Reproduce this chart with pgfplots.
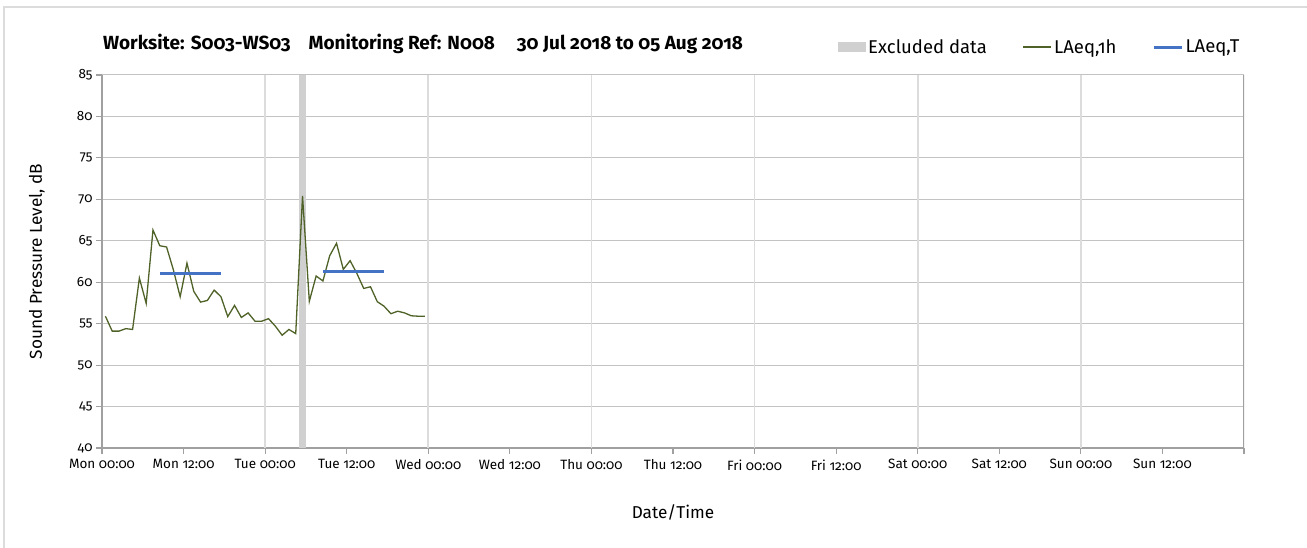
\documentclass[border=0pt]{standalone}
\usepackage{pgfplots}
\pgfplotsset{compat=1.18}
\usepackage{fontspec}
\setmainfont[Numbers=OldStyle]{Fira Sans}
\definecolor{lgreen}{RGB}{79,98,40}
\definecolor{lblue}{RGB}{68,114,196}
\definecolor{excl}{RGB}{208,208,208}
\definecolor{axgray}{RGB}{160,160,160}
\definecolor{hgrid}{RGB}{195,195,195}
\definecolor{vgrid}{RGB}{220,220,220}
\pgfplotsset{
  lineleg/.style={legend image code/.code={\draw[##1] (0pt,0pt) -- (28pt,0pt);}},
  arealeg/.style={legend image code/.code={\fill[##1] (0pt,-5.3pt) rectangle (28pt,5.3pt);}},
}
\begin{document}
\begin{tikzpicture}[x=1pt,y=1pt]
\useasboundingbox (-102,-100) rectangle (1205,448);
% outer chart frame
\draw[color=vgrid, line width=1.2pt] (-98,-100) -- (-98,441) -- (1205,441);
\begin{axis}[
    at={(0,0)}, anchor=south west,
    scale only axis, width=1142pt, height=373pt,
    xmin=0, xmax=168, ymin=40, ymax=85,
    xtick={0,12,...,168},
    xticklabels={Mon 00:00,Mon 12:00,Tue 00:00,Tue 12:00,Wed 00:00,Wed 12:00,Thu 00:00,Thu 12:00,Fri 00:00,Fri 12:00,Sat 00:00,Sat 12:00,Sun 00:00,Sun 12:00,},
    ytick={40,45,...,85},
    extra x ticks={24,48,72,96,120,144},
    extra x tick labels={},
    extra x tick style={grid=major, major grid style={color=vgrid, line width=1.6pt}, major tick length=0pt},
    ymajorgrids, major grid style={color=hgrid, line width=1pt},
    axis x line*=bottom, axis y line*=left,
    axis line style={color=axgray, line width=1.2pt, -},
    tick style={color=axgray, line width=1.2pt},
    tick align=outside, major tick length=6pt,
    /pgf/number format/assume math mode=true,
    ticklabel style={font=\fontsize{13.5}{16}\selectfont, color=black},
    xticklabel style={yshift=-2pt},
    xlabel={Date/Time},
    ylabel={Sound Pressure Level, dB},
    label style={font=\fontsize{17.2}{20}\selectfont},
    xlabel style={at={(axis description cs:0.5,-0.174)}, anchor=center},
    ylabel style={at={(axis description cs:-0.057,0.5)}, anchor=center},
    legend columns=3,
    legend style={draw=none, fill=none, at={(axis description cs:0.6445,1.075)}, anchor=west,
      font=\fontsize{18.5}{22}\selectfont, inner sep=0pt,
      /tikz/every even column/.append style={column sep=34pt}},
    legend cell align=left,
]
\addplot[fill=excl, draw=none, area legend, arealeg]
  coordinates {(29,85) (30,85)} \closedcycle;
\addlegendentry{Excluded data}
\addplot[color=lgreen, line width=1.3pt, lineleg] coordinates {
(0.5,55.9) (1.5,54.1) (2.5,54.1) (3.5,54.4) (4.5,54.3) (5.5,60.5) (6.5,57.45) (7.5,66.3)
(8.5,64.4) (9.5,64.25) (10.5,61.5) (11.5,58.25) (12.5,62.3) (13.5,58.9) (14.5,57.6) (15.5,57.8)
(16.5,59.05) (17.5,58.25) (18.5,55.85) (19.5,57.2) (20.5,55.75) (21.5,56.3) (22.5,55.3) (23.5,55.3)
(24.5,55.6) (25.5,54.7) (26.5,53.6) (27.5,54.3) (28.5,53.8) (29.5,70.4) (30.5,57.7) (31.5,60.75)
(32.5,60.15) (33.5,63.2) (34.5,64.7) (35.5,61.55) (36.5,62.6) (37.5,61.05) (38.5,59.25) (39.5,59.45)
(40.5,57.65) (41.5,57.1) (42.5,56.2) (43.5,56.5) (44.5,56.3) (45.5,55.95) (46.5,55.9) (47.5,55.9)
};
\addlegendentry{LAeq,1h}
\addplot[color=lblue, line width=3pt, unbounded coords=jump, lineleg]
  coordinates {(8.5,61.0) (17.5,61.0) (nan,nan) (32.5,61.3) (41.5,61.3)};
\addlegendentry{LAeq,T}
% right-hand edge line
\draw[color=axgray, line width=1.2pt] (axis cs:168,40) -- (axis cs:168,85);
\end{axis}
\node[anchor=west, inner sep=0pt, font=\bfseries\fontsize{19}{22}\selectfont] at (1,404)
  {Worksite: S003-WS03\hspace{18pt}Monitoring Ref: N008\hspace{22pt}30 Jul 2018 to 05 Aug 2018};
\end{tikzpicture}
\end{document}
